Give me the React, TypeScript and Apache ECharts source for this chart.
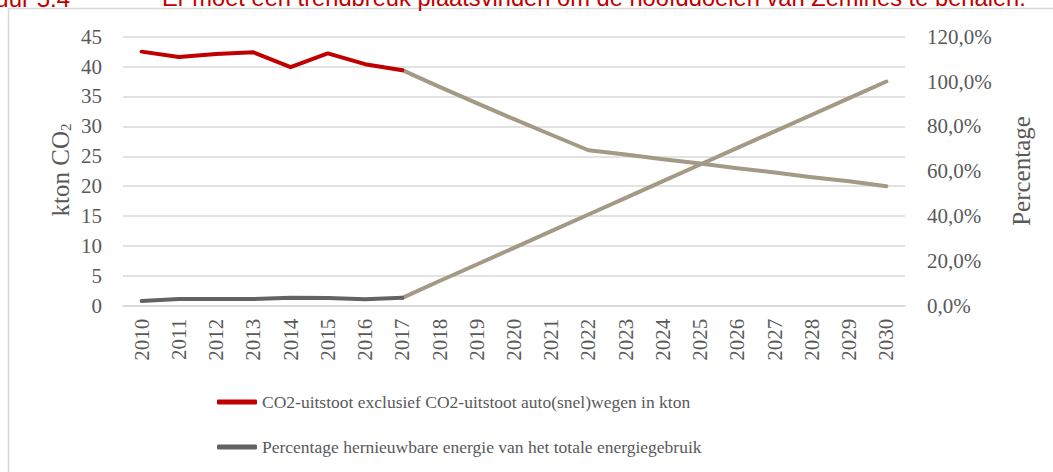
import React, { useEffect, useRef } from "react";
import * as echarts from "echarts";

const years = ["2010","2011","2012","2013","2014","2015","2016","2017","2018","2019","2020","2021","2022","2023","2024","2025","2026","2027","2028","2029","2030"];

// kton CO2, measured 2010-2017
const co2Measured = [42.5, 41.6, 42.1, 42.4, 39.9, 42.2, 40.4, 39.4, null, null, null, null, null, null, null, null, null, null, null, null, null];
// kton CO2, target path 2017-2030
const co2Target = [null, null, null, null, null, null, null, 39.4, 36.6, 33.9, 31.2, 28.6, 26.0, 25.3, 24.5, 23.8, 23.0, 22.3, 21.5, 20.8, 20.0];
// percentage renewable, measured 2010-2017
const pctMeasured = [2.1, 3.0, 3.0, 3.0, 3.5, 3.4, 2.9, 3.5, null, null, null, null, null, null, null, null, null, null, null, null, null];
// percentage renewable, target path 2017-2030
const pctTarget = [null, null, null, null, null, null, null, 3.5, 11.0, 18.4, 25.8, 33.3, 40.7, 48.1, 55.6, 63.0, 70.4, 77.8, 85.2, 92.6, 100.0];

const leftTicks = { min: 0, max: 45, interval: 5 };
const rightTicks = { min: 0, max: 120, interval: 20 };

const seriesNames = [
  "CO2-uitstoot exclusief CO2-uitstoot auto(snel)wegen in kton",
  "Percentage hernieuwbare energie van het totale energiegebruik",
];

const SERIF = "'Liberation Serif', 'Times New Roman', serif";
const SANS = "'Liberation Sans', Arial, sans-serif";
const TXT = "#595959";
const GRID = "#D9D9D9";
const RED = "#C00000";
const DARK = "#636363";
const TAN = "#A39A86";

export default function App() {
  const ref = useRef<HTMLDivElement>(null);
  useEffect(() => {
    if (!ref.current) return;
    const chart = echarts.init(ref.current, undefined, { renderer: "svg" });
    const lineBase = { type: "line", symbol: "none", showSymbol: false, connectNulls: false };
    chart.setOption({
      animation: false,
      backgroundColor: "#ffffff",
      grid: { left: 123, right: 148, top: 36.7, bottom: 166.3 },
      xAxis: {
        type: "category",
        data: years,
        boundaryGap: true,
        axisLine: { show: true, lineStyle: { color: GRID, width: 1.5 } },
        axisTick: { show: false },
        axisLabel: { rotate: 90, margin: 13, color: TXT, fontFamily: SERIF, fontSize: 21 },
      },
      yAxis: [
        {
          type: "value",
          min: leftTicks.min,
          max: leftTicks.max,
          interval: leftTicks.interval,
          axisLine: { show: false },
          axisTick: { show: false },
          splitLine: { show: true, lineStyle: { color: GRID, width: 1.5 } },
          axisLabel: { color: TXT, fontFamily: SERIF, fontSize: 21, margin: 21 },
        },
        {
          type: "value",
          min: rightTicks.min,
          max: rightTicks.max,
          interval: rightTicks.interval,
          position: "right",
          axisLine: { show: false },
          axisTick: { show: false },
          splitLine: { show: false },
          axisLabel: {
            color: TXT,
            fontFamily: SERIF,
            fontSize: 21,
            margin: 22,
            formatter: (v: number) => v.toFixed(1).replace(".", ",") + "%",
          },
        },
      ],
      legend: {
        data: seriesNames,
        orient: "vertical",
        left: 217,
        top: 393,
        padding: 0,
        itemWidth: 40,
        itemHeight: 5,
        itemGap: 27,
        icon: "roundRect",
        textStyle: { color: TXT, fontFamily: SERIF, fontSize: 17.5 },
      },
      series: [
        {
          ...lineBase,
          name: "co2target",
          data: co2Target,
          yAxisIndex: 0,
          color: TAN,
          lineStyle: { color: TAN, width: 4, cap: "round", join: "round" },
          z: 2,
        },
        {
          ...lineBase,
          name: "pcttarget",
          data: pctTarget,
          yAxisIndex: 1,
          color: TAN,
          lineStyle: { color: TAN, width: 4, cap: "round", join: "round" },
          z: 2,
        },
        {
          ...lineBase,
          name: seriesNames[0],
          data: co2Measured,
          yAxisIndex: 0,
          color: RED,
          lineStyle: { color: RED, width: 4, cap: "round", join: "round" },
          z: 3,
        },
        {
          ...lineBase,
          name: seriesNames[1],
          data: pctMeasured,
          yAxisIndex: 1,
          color: DARK,
          lineStyle: { color: DARK, width: 4, cap: "round", join: "round" },
          z: 3,
        },
      ],
      graphic: [
        {
          type: "rect",
          shape: { x: 8.5, y: 8.5, width: 1200, height: 600 },
          style: { fill: "none", stroke: GRID, lineWidth: 1.5 },
          silent: true,
        },
        {
          type: "text",
          x: 70,
          y: -1.7,
          style: {
            text: "Figuur 5.4",
            fill: RED,
            font: `24px ${SANS}`,
            align: "right",
            verticalAlign: "middle",
          },
        },
        {
          type: "text",
          x: 162,
          y: -1.7,
          style: {
            text: "Er moet een trendbreuk plaatsvinden om de hoofddoelen van Zemines te behalen.",
            fill: RED,
            font: `23.7px ${SANS}`,
            align: "left",
            verticalAlign: "middle",
          },
        },
        {
          type: "text",
          x: 60,
          y: 170,
          rotation: Math.PI / 2,
          style: {
            text: "{a|kton CO}{s|2}",
            align: "center",
            verticalAlign: "middle",
            rich: {
              a: { fontFamily: SERIF, fontSize: 25, fill: TXT, color: TXT, lineHeight: 26 },
              s: { fontFamily: SERIF, fontSize: 15, fill: TXT, color: TXT, lineHeight: 12, verticalAlign: "bottom" },
            },
          },
        },
        {
          type: "text",
          x: 1021,
          y: 171,
          rotation: Math.PI / 2,
          style: {
            text: "Percentage",
            fill: TXT,
            font: `25px ${SERIF}`,
            align: "center",
            verticalAlign: "middle",
          },
        },
      ],
    });
    return () => chart.dispose();
  }, []);
  return (
    <div
      ref={ref}
      style={{ position: "absolute", left: 0, top: 0, width: 1053, height: 472 }}
    />
  );
}
